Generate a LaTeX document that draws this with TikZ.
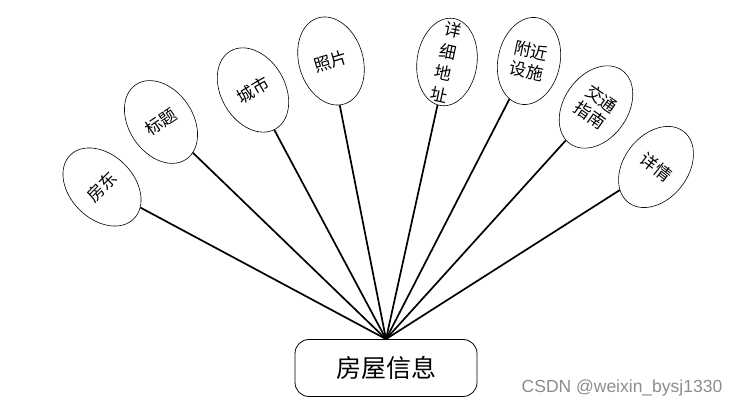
\documentclass[tikz,border=0pt]{standalone}
\usepackage{fontspec}
\setmainfont{Liberation Sans}
\newfontfamily\cjk{Noto Sans CJK SC}
\usetikzlibrary{shapes.geometric}

\begin{document}
\begin{tikzpicture}[x=1pt,y=1pt,
  attr/.style={draw, ellipse, line width=0.6pt, minimum width=64pt,
    minimum height=90pt, inner sep=0pt, align=center,
    font=\cjk\fontsize{17}{20}\selectfont},
  entity/.style={draw, rounded corners=14pt, line width=0.8pt,
    minimum width=182pt, minimum height=57pt,
    font=\cjk\fontsize{25}{28}\selectfont},
  link/.style={line width=1.7pt}]
  \useasboundingbox (0,0) rectangle (746,411);

  % Attributes
  \node[attr, rotate=45] (fd) at (102,224) {房东};
  \node[attr, rotate=34] (bt) at (161,289) {标题};
  \node[attr, rotate=30] (cs) at (253,321) {城市};
  \node[attr, rotate=17] (zp) at (331,350) {照片};
  \node[attr, minimum width=60pt, minimum height=88pt, rotate=-8] (dz) at (447,349) {};
  \node[rotate=-12, inner sep=0pt, align=center,
    font=\cjk\fontsize{17}{22}\selectfont] (dzt) at (446,349) {详\\细\\地\\址};
  \node[attr, minimum width=62pt, minimum height=88pt, rotate=-12] (fj) at (529,350) {附近\\设施};
  \node[attr, rotate=-35] (jt) at (596,304) {交通\\指南};
  \node[attr, rotate=-38] (xq) at (656,244) {详情};

  % Entity
  \node[entity] (fw) at (386,43) {房屋信息};
  \coordinate (hub) at (fw.north);

  % Links
  \foreach \a in {fd,bt,cs,zp,dz,fj,jt,xq}
    \draw[link] (\a) -- (hub);

  % Watermark
  \node[text=black!45, font=\fontsize{17.5}{20}\selectfont] (wm) at (622,23) {CSDN @weixin\_bysj1330};
\end{tikzpicture}
\end{document}
